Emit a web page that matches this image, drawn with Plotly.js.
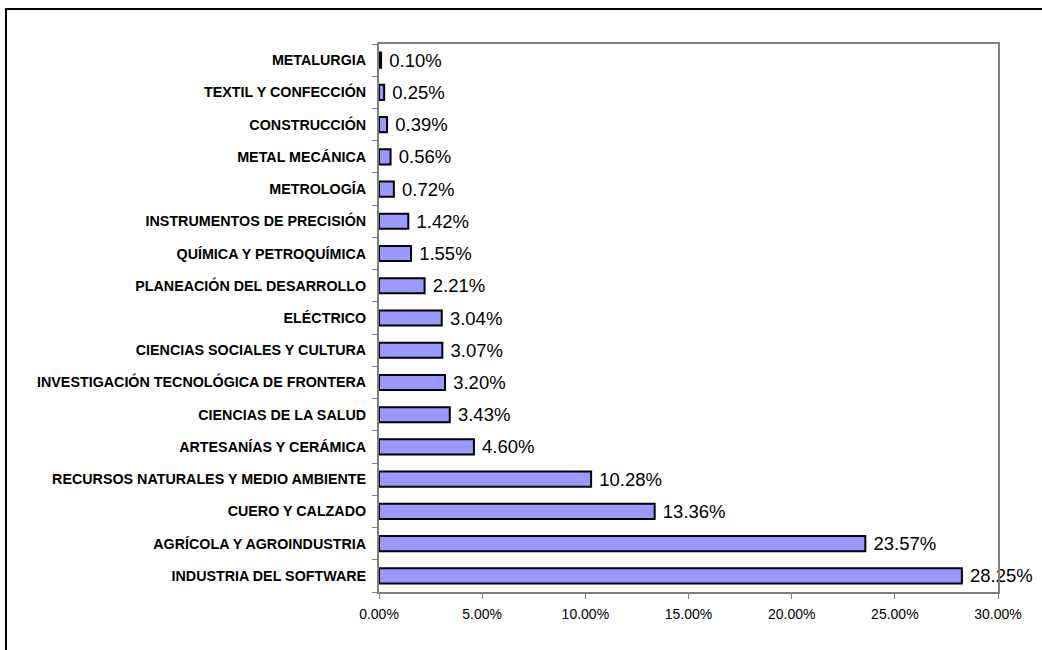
<!DOCTYPE html>
<html>
<head>
<meta charset="utf-8">
<script src="https://cdn.plot.ly/plotly-3.0.1.min.js"></script>
<style>
  html, body { margin: 0; padding: 0; background: #fff; }
  #chart { width: 1042px; height: 650px; }
</style>
</head>
<body>
<div id="chart"></div>
<script>
// categories, bottom to top
var sectores = [
  'INDUSTRIA DEL SOFTWARE',
  'AGRÍCOLA Y AGROINDUSTRIA',
  'CUERO Y CALZADO',
  'RECURSOS NATURALES Y MEDIO AMBIENTE',
  'ARTESANÍAS Y CERÁMICA',
  'CIENCIAS DE LA SALUD',
  'INVESTIGACIÓN TECNOLÓGICA DE FRONTERA',
  'CIENCIAS SOCIALES Y CULTURA',
  'ELÉCTRICO',
  'PLANEACIÓN DEL DESARROLLO',
  'QUÍMICA Y PETROQUÍMICA',
  'INSTRUMENTOS DE PRECISIÓN',
  'METROLOGÍA',
  'METAL MECÁNICA',
  'CONSTRUCCIÓN',
  'TEXTIL Y CONFECCIÓN',
  'METALURGIA'
];
var porcentajes = [0.2825, 0.2357, 0.1336, 0.1028, 0.0460, 0.0343, 0.0320, 0.0307,
                   0.0304, 0.0221, 0.0155, 0.0142, 0.0072, 0.0056, 0.0039, 0.0025, 0.0010];
var xTicks = [0, 0.05, 0.10, 0.15, 0.20, 0.25, 0.30];

var W = 1042, H = 650;
var m = {l: 379, r: 44, t: 44, b: 58, pad: 0};
var pw = W - m.l - m.r, ph = H - m.t - m.b;

var trace = {
  type: 'bar',
  orientation: 'h',
  y: sectores,
  x: porcentajes,
  marker: {color: '#9999ff', line: {color: '#000000', width: 2}},
  texttemplate: ' %{x:.2%}',
  textposition: 'outside',
  constraintext: 'none',
  cliponaxis: false,
  textfont: {family: 'Arial, Liberation Sans, sans-serif', size: 18.5, color: '#000'},
  hoverinfo: 'none'
};

var layout = {
  width: W, height: H,
  margin: m,
  paper_bgcolor: '#fff',
  plot_bgcolor: '#fff',
  showlegend: false,
  bargap: 0.53,
  font: {family: 'Arial, Liberation Sans, sans-serif', color: '#000'},
  xaxis: {
    range: [0, 0.30],
    tickvals: xTicks,
    tickformat: '.2%',
    ticks: 'outside', ticklen: 5, tickcolor: '#808080', tickwidth: 1,
    showgrid: false, zeroline: false,
    showline: true, linecolor: '#808080', linewidth: 2, mirror: true,
    tickfont: {size: 14, color: '#000'},
    ticklabelstandoff: 3,
    fixedrange: true
  },
  yaxis: {
    type: 'category',
    tickson: 'boundaries',
    ticks: 'outside', ticklen: 5, tickcolor: '#808080', tickwidth: 1,
    showgrid: false, zeroline: false,
    showline: true, linecolor: '#808080', linewidth: 2, mirror: true,
    tickfont: {size: 14.3, color: '#000', weight: 'bold'},
    ticklabelstandoff: 8,
    fixedrange: true
  },
  shapes: [{
    type: 'rect', xref: 'paper', yref: 'paper',
    x0: (6 - m.l) / pw, x1: (W + 20 - m.l) / pw,
    y0: -(m.b + 20) / ph, y1: 1 + (m.t - 9) / ph,
    line: {color: '#000', width: 2}, fillcolor: 'rgba(0,0,0,0)', layer: 'below'
  }]
};

Plotly.newPlot('chart', [trace], layout, {displayModeBar: false, staticPlot: true});
</script>
</body>
</html>
